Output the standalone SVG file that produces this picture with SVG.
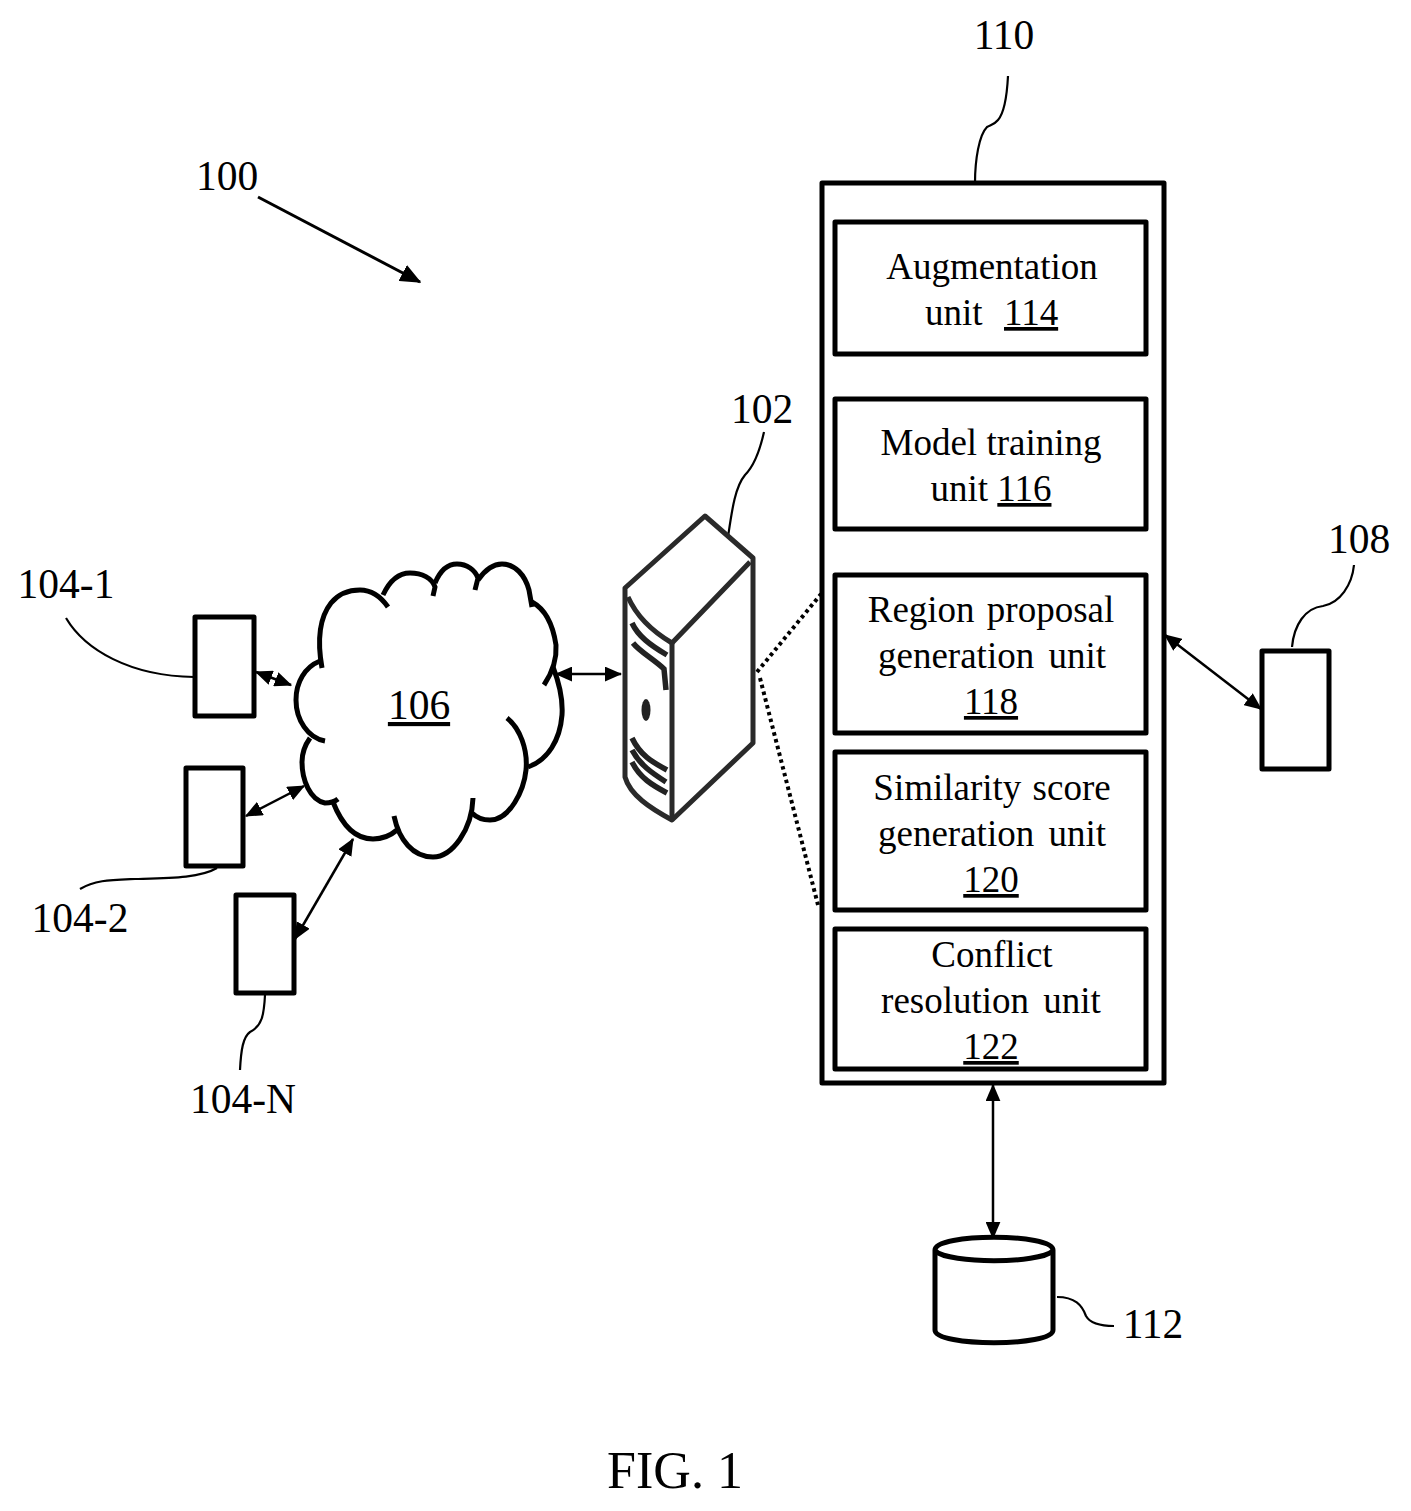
<svg xmlns="http://www.w3.org/2000/svg" width="1411" height="1511" viewBox="0 0 1411 1511">
<style>
text{font-family:"Liberation Serif","Times New Roman",serif;fill:#000;text-anchor:middle}
.l{font-size:41.5px}
.b{font-size:37px}
.st{text-anchor:start}
.u{text-decoration:underline;text-decoration-thickness:1.5px}
.box{fill:#fff;stroke:#000;stroke-width:5;stroke-linejoin:round}
.thin{fill:none;stroke:#000;stroke-width:2.2}
.conn{fill:none;stroke:#000;stroke-width:2.5;marker-start:url(#a);marker-end:url(#a)}
.cl{fill:none;stroke:#000;stroke-width:5}
.sv{fill:none;stroke:#2a2a2a;stroke-width:5;stroke-linejoin:round}
.sl{fill:none;stroke:#222;stroke-width:5.5}
.dot{fill:none;stroke:#000;stroke-width:4;stroke-dasharray:3.5 3.5}
</style>
<defs>
<marker id="a" markerWidth="7" markerHeight="6" refX="6.5" refY="3" orient="auto-start-reverse" markerUnits="strokeWidth"><path d="M0 0L7 3L0 6Z" fill="#000"/></marker>
</defs>
<rect width="1411" height="1511" fill="#fff"/>

<g id="connectors">
<path class="conn" style="marker-start:none;stroke-width:3" d="M258 197L420 282"/>
<path class="conn" d="M256 672L291 685"/>
<path class="conn" d="M246 816L304 786"/>
<path class="conn" d="M295 939L353 839"/>
<path class="conn" d="M556 674L621 674"/>
<path class="conn" d="M1165 635L1261 709"/>
<path class="conn" d="M993 1085L993 1238"/>
<path class="dot" d="M757 672L821 594"/>
<path class="dot" d="M760 678L818 905"/>
<path class="thin" d="M66 618C85 650 130 676 194 677"/>
<path class="thin" d="M80 889C95 880 110 880 135 879C170 878 200 878 217 868"/>
<path class="thin" d="M240 1070C241 1050 243 1037 250 1032C262 1026 264 1015 265 995"/>
<path class="thin" d="M764 432C760 450 755 465 745 475C735 487 732 510 728 537"/>
<path class="thin" d="M1008 76C1007 95 1005 112 998 120C994 125 990 125 987 127C979 135 975 160 975 183"/>
<path class="thin" d="M1354 565C1352 585 1340 603 1323 606C1305 608 1294 625 1292 647"/>
<path class="thin" d="M1057 1297C1075 1297 1082 1305 1086 1316C1090 1323 1100 1326 1114 1326"/>
</g>

<g id="n100"><text class="l" x="227" y="190">100</text></g>
<g id="n110-label"><text class="l" x="1004" y="49">110</text></g>
<g id="n102-label"><text class="l" x="762" y="423">102</text></g>
<g id="n108-label"><text class="l" x="1359" y="553">108</text></g>
<g id="n112-label"><text class="l" x="1153" y="1338">112</text></g>

<g id="n104-1"><rect class="box" x="195" y="617" width="59" height="99"/><text class="l" x="66" y="598">104-1</text></g>
<g id="n104-2"><rect class="box" x="186" y="768" width="57" height="98"/><text class="l" x="80" y="932">104-2</text></g>
<g id="n104-N"><rect class="box" x="236" y="895" width="58" height="98"/><text class="l" x="243" y="1113">104-N</text></g>
<g id="n108"><rect class="box" x="1262" y="651" width="67" height="118"/></g>

<g id="n106">
<path class="cl" d="M322 668C317 640 320 617 331 603C340 592 350 590 360 590C372 590 381 597 388 607"/>
<path class="cl" d="M383 595C390 580 400 573 410 573C422 573 432 578 435 587L433 596"/>
<path class="cl" d="M435 583C440 571 448 564 457 564C467 564 475 570 478 578L475 590"/>
<path class="cl" d="M478 580C485 570 493 564 502 564C515 564 525 575 529 590L532 607"/>
<path class="cl" d="M532 602C545 609 553 625 556 645C557 660 552 673 544 685"/>
<path class="cl" d="M553 667C560 685 563 700 562 715C560 740 548 760 528 767"/>
<path class="cl" d="M507 718C520 728 528 750 526 770C524 790 510 820 490 820C483 820 477 818 472 813"/>
<path class="cl" d="M473 798C472 830 452 857 433 857C413 857 399 840 394 816"/>
<path class="cl" d="M397 830C390 836 382 839 373 839C355 839 342 825 333 802"/>
<path class="cl" d="M338 799C333 803 328 803 325 803C310 800 302 780 302 762C302 752 305 745 310 738"/>
<path class="cl" d="M325 741C308 738 296 720 296 700C296 682 305 667 320 661"/>
<text class="l u" x="419" y="719">106</text>
</g>

<g id="n102">
<path class="sv" d="M705 516L753 558L753 743L672 820C650 808 630 795 625 777L625 588Z"/>
<path class="sv" d="M628 597C636 615 650 630 672 643L750 562"/>
<path class="sv" d="M672 643L672 820"/>
<path class="sl" stroke-width="7" d="M632 623C638 636 650 645 667 655"/>
<path class="sl" d="M633 643C640 652 655 660 664 669L666 690"/>
<ellipse cx="646" cy="710" rx="4.5" ry="11" fill="#222"/>
<path class="sl" d="M632 738C640 755 652 762 667 770M632 750C640 765 652 773 666 782M632 762C640 778 652 785 667 793"/>
</g>

<g id="n110">
<rect class="box" x="822" y="183" width="342" height="900"/>
<g id="n114"><rect class="box" x="835" y="222" width="311" height="132"/><text class="b" x="992" y="279">Augmentation</text><text class="b st" x="925" y="325">unit</text><text class="b st u" x="1004" y="325">114</text></g>
<g id="n116"><rect class="box" x="835" y="399" width="311" height="130"/><text class="b" x="991" y="455">Model training</text><text class="b" x="991" y="501">unit <tspan class="u">116</tspan></text></g>
<g id="n118"><rect class="box" x="835" y="575" width="311" height="158"/><text class="b" x="991" y="622" word-spacing="3">Region proposal</text><text class="b" x="992" y="668" word-spacing="5">generation unit</text><text class="b u" x="991" y="714">118</text></g>
<g id="n120"><rect class="box" x="835" y="752" width="311" height="158"/><text class="b" x="992" y="800" word-spacing="2">Similarity score</text><text class="b" x="992" y="846" word-spacing="5">generation unit</text><text class="b u" x="991" y="892">120</text></g>
<g id="n122"><rect class="box" x="835" y="929" width="311" height="140"/><text class="b" x="992" y="967">Conflict</text><text class="b" x="991" y="1013" word-spacing="5">resolution unit</text><text class="b u" x="991" y="1059">122</text></g>
</g>

<g id="n112">
<path class="box" d="M935 1250C935 1233 1053 1233 1053 1250L1053 1330C1053 1347 935 1347 935 1330Z"/>
<path class="box" style="fill:none" d="M935 1251C950 1264 1038 1264 1053 1251"/>
</g>

<g id="caption"><text x="675" y="1488" font-size="52">FIG. 1</text></g>
</svg>
